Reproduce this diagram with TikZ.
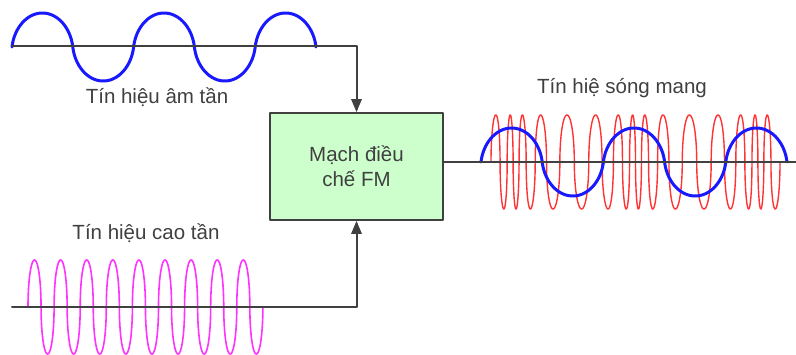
\documentclass[tikz,border=0pt]{standalone}
\usepackage{fontspec}
\setmainfont{Liberation Sans}
\usepackage{tikz}
\usetikzlibrary{calc}
\usetikzlibrary{arrows}
\definecolor{qqqqff}{rgb}{0.1,0.1,1.}
\definecolor{ffqqqq}{rgb}{1.,0.2,0.2}
\definecolor{ffqqff}{rgb}{1.,0.2,1.}
\definecolor{ccffcc}{rgb}{0.8,1.,0.8}
\definecolor{dgray}{rgb}{0.25,0.25,0.25}
\tikzstyle{every node}=[font=\fontsize{20.5}{25}\selectfont]
\tikzstyle{lbl}=[text=dgray,inner sep=0pt]
\tikzstyle{wire}=[line width=2pt,color=dgray]

\begin{document}
\begin{tikzpicture}[line cap=round,line join=round,>=triangle 45,x=1pt,y=-1pt,
            declare function={ew(\t)=180*floor(\t/180)+90*(1-cos(mod(\t,180)));
                              ewb(\t)=0.8*ew(\t)+0.2*\t;}]
            \useasboundingbox (0,0) rectangle (796,354);
            % am tan
            \draw [line width=3pt,color=qqqqff,variable=\t,domain=0:900,samples=400] plot({12+0.33778*ewb(\t)},{47-34*sin(\t)});
            % cao tan
            \draw [line width=1.6pt,color=ffqqff,variable=\t,domain=0:3240,samples=900] plot({28+0.0725*ew(\t)},{307-47*sin(\t)});
            % song mang
            \draw [line width=1.4pt,color=ffqqqq,variable=\t,domain=0:5400,samples=1800] plot({491+0.056667*ew(\t)+8.5*(cos(0.16667*ew(\t))-1)},{162-47*sin(\t)});
            \draw [line width=3pt,color=qqqqff,variable=\t,domain=0:900,samples=400] plot({481+0.34*ewb(\t)},{162-34*sin(\t)});
            \node [draw=dgray,fill=ccffcc,line width=2pt,minimum width=173pt,minimum height=107pt,align=center,text=dgray] (mod) at (356.5,166.5) {Mạch điều\\chế FM};
            \coordinate (audL) at (12,46);
            \coordinate (carL) at (12,307);
            \coordinate (outR) at (796,162);
            \draw [wire,->] (audL) -| (mod.north);
            \draw [wire,->] (carL) -| (mod.south);
            \draw [wire] (mod.east |- outR) -- (outR);
            \node [lbl] (audlbl) at (157,97) {Tín hiệu âm tần};
            \node [lbl] (carlbl) at (146,233) {Tín hiệu cao tần};
            \node [lbl] (outlbl) at (622,88) {Tín hiệ sóng mang};
        \end{tikzpicture}
\end{document}
